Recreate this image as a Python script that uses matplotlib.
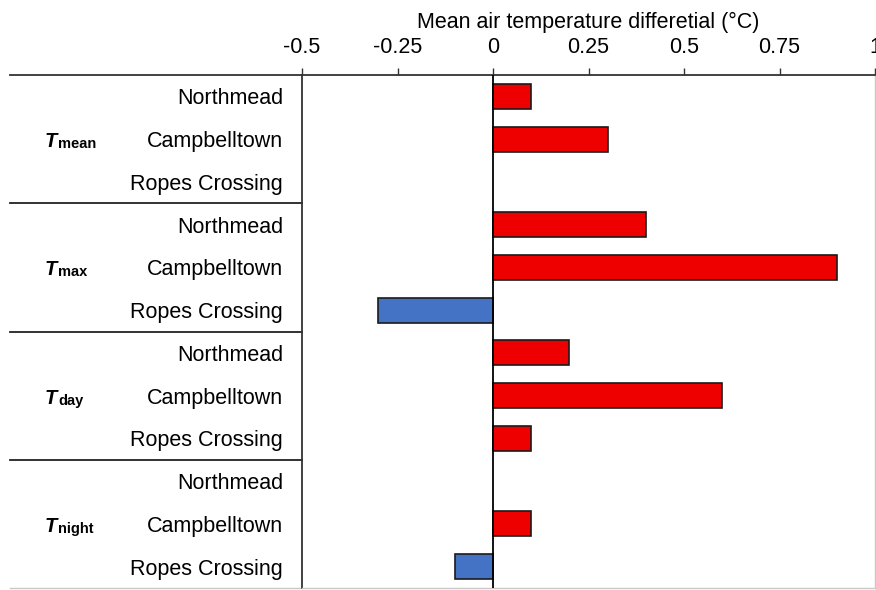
import matplotlib
matplotlib.use("Agg")
import matplotlib.pyplot as plt
import matplotlib.transforms as mtransforms
import numpy as np

plt.rcParams['font.family'] = ['Liberation Sans', 'DejaVu Sans']

# data
groups = ['mean', 'max', 'day', 'night']
sites = ['Northmead', 'Campbelltown', 'Ropes Crossing']
values = {
    'mean': [0.1, 0.3, 0.0],
    'max': [0.4, 0.9, -0.3],
    'day': [0.2, 0.6, 0.1],
    'night': [0.0, 0.1, -0.1],
}
xticks = [-0.5, -0.25, 0, 0.25, 0.5, 0.75, 1]
xtick_labels = ['-0.5', '-0.25', '0', '0.25', '0.5', '0.75', '1']

RED = '#EE0000'
BLUE = '#4472C4'

fig = plt.figure(figsize=(8.76, 5.90), dpi=100)
ax = fig.add_axes([302 / 876, 2 / 590, 573 / 876, 513 / 590])

labels = []
vals = []
for g in groups:
    for s, v in zip(sites, values[g]):
        labels.append(s)
        vals.append(v)
vals = np.array(vals)
ypos = np.arange(len(vals))

colors = [RED if v > 0 else BLUE for v in vals]
for y, v, c in zip(ypos, vals, colors):
    if v != 0:
        ax.barh(y, v, height=0.58, color=c, edgecolor='#1a1a1a', linewidth=1.2, zorder=2)

ax.set_xlim(-0.5, 1.0)
ax.set_ylim(len(vals) - 0.5, -0.5)
ax.axvline(0, color='black', linewidth=1.3, zorder=3)

# x axis on top
ax.xaxis.tick_top()
ax.xaxis.set_label_position('top')
ax.set_xticks(xticks)
ax.set_xticklabels(xtick_labels, fontsize=15.5)
ax.tick_params(axis='x', direction='out', length=5, width=1, color='#333333', pad=7)
ax.set_xlabel('Mean air temperature differetial (°C)', fontsize=15.5, labelpad=7)

ax.set_yticks(ypos)
ax.set_yticklabels(labels, fontsize=15.5)
ax.tick_params(axis='y', length=0, pad=13.5)

for side in ['left', 'top']:
    ax.spines[side].set_color('#333333')
    ax.spines[side].set_linewidth(1.3)
for side in ['right', 'bottom']:
    ax.spines[side].set_color('#c8c8c8')
    ax.spines[side].set_linewidth(1.0)

# lines extending to the left of the axes
trans = mtransforms.blended_transform_factory(ax.transAxes, ax.transData)
x0 = (10 - 302) / 573
ax.plot([x0, 0], [-0.5, -0.5], transform=trans, color='#333333', linewidth=1.3, clip_on=False)
for yb in [2.5, 5.5, 8.5]:
    ax.plot([x0, 0], [yb, yb], transform=trans, color='#222222', linewidth=1.3, clip_on=False)
ax.plot([x0, 0], [11.5, 11.5], transform=trans, color='#c8c8c8', linewidth=1.0, clip_on=False)

# group labels T_sub
ftrans = mtransforms.blended_transform_factory(fig.transFigure, ax.transData)
for i, g in enumerate(groups):
    yc = i * 3 + 1 + 0.19
    ax.text(45 / 876, yc, 'T', transform=ftrans, fontsize=14.5, fontweight='bold',
            fontstyle='italic', ha='left', va='baseline')
    ax.text(58 / 876, yc + 0.02, g, transform=ftrans, fontsize=10.5, fontweight='bold',
            ha='left', va='baseline')

fig.savefig('out.png', dpi=100)
